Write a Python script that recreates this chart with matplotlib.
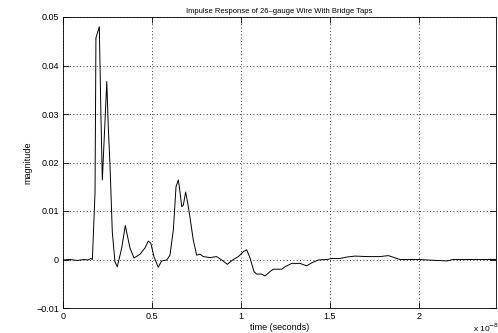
import matplotlib
matplotlib.use('Agg')
from matplotlib import pyplot as plt
import numpy as np

# time in units of 1e-8 s, magnitude
time_e8 = [0.0, 0.039, 0.079, 0.118, 0.140, 0.157, 0.165, 0.180, 0.185, 0.204,
           0.213, 0.221, 0.246, 0.254, 0.264, 0.277, 0.292, 0.305, 0.330, 0.350,
           0.376, 0.399, 0.433, 0.461, 0.479, 0.493, 0.511, 0.535, 0.554, 0.583,
           0.601, 0.620, 0.635, 0.648, 0.657, 0.667, 0.676, 0.689, 0.701, 0.713,
           0.732, 0.751, 0.770, 0.788, 0.826, 0.863, 0.892, 0.923, 0.953, 0.985,
           1.013, 1.032, 1.051, 1.073, 1.088, 1.116, 1.135, 1.163, 1.181, 1.229,
           1.247, 1.285, 1.331, 1.369, 1.397, 1.434, 1.481, 1.510, 1.556, 1.594,
           1.640, 1.715, 1.781, 1.828, 1.893, 1.996, 2.156, 2.193, 2.433]
magnitude = [-0.0001, 0.0, -0.0002, 0.0, -0.0001, 0.0002, 0.0, 0.0139, 0.0457, 0.0480,
             0.0298, 0.0164, 0.0367, 0.0277, 0.0195, 0.0057, -0.0005, -0.0015, 0.0024, 0.0070,
             0.0024, 0.0003, 0.0011, 0.0024, 0.0038, 0.0034, 0.0006, -0.0016, -0.0003, -0.0001,
             0.0009, 0.0061, 0.0150, 0.0164, 0.0140, 0.0109, 0.0112, 0.0139, 0.0116, 0.0088,
             0.0040, 0.0009, 0.0011, 0.0006, 0.0004, 0.0006, -0.0001, -0.0010, -0.0001, 0.0006,
             0.0016, 0.0020, 0.0003, -0.0025, -0.0030, -0.0030, -0.0034, -0.0025, -0.0020, -0.0020,
             -0.0015, -0.0008, -0.0008, -0.0013, -0.0007, -0.0001, 0.0000, 0.0002, 0.0002, 0.0005,
             0.0007, 0.0006, 0.0006, 0.0008, 0.0000, 0.0, -0.0003, 0.0, 0.0]

xticks = [0, 0.5, 1, 1.5, 2]
xticklabels = ['0', '0.5', '1', '1.5', '2']
yticks = [-0.01, 0, 0.01, 0.02, 0.03, 0.04, 0.05]
yticklabels = ['\u22120.01', '0', '0.01', '0.02', '0.03', '0.04', '0.05']

plt.rcParams['font.family'] = ['Liberation Sans', 'DejaVu Sans']

fig = plt.figure(figsize=(4.98, 3.33), dpi=100)
ax = fig.add_axes([63/498, 25/333, 432.5/498, 291/333])

ax.plot(time_e8, magnitude, '-', color='black', lw=0.7)

ax.set_xlim(0, 2.43)
ax.set_ylim(-0.01, 0.05)
ax.set_xticks(xticks)
ax.set_xticklabels(xticklabels)
ax.set_yticks(yticks)
ax.set_yticklabels(yticklabels)
ax.tick_params(direction='in', length=4, width=0.6, top=True, right=True,
               labelsize=6.5, pad=3)
ax.grid(True, linestyle=(0, (1, 3)), color='black', lw=0.6)
for s in ax.spines.values():
    s.set_linewidth(0.6)

ax.set_title('Impulse Response of 26\u2013gauge Wire With Bridge Taps', fontsize=5.5, pad=3)
ax.set_xlabel('time (seconds)', fontsize=6.5, labelpad=1)
ax.set_ylabel('magnitude', fontsize=6.5, labelpad=3)
fig.text(486/498, 1 - 328/333, r'x 10$^{-8}$', fontsize=6, ha='center', va='center')

fig.savefig('out.png', dpi=100)
